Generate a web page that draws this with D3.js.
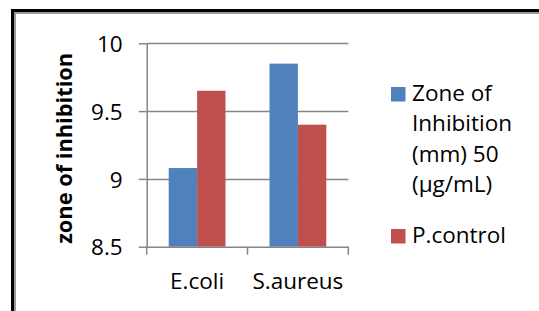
<!DOCTYPE html>
<html>
<head>
<meta charset="utf-8">
<script src="https://cdn.jsdelivr.net/npm/d3@7"></script>
<style>
  html, body { margin: 0; padding: 0; background: #fff; }
  svg { display: block; font-family: 'Open Sans', sans-serif; }
</style>
</head>
<body>
<script>
// data
var categories = ['E.coli', 'S.aureus'];
var seriesNames = ['Zone of Inhibition (mm) 50 (\u00b5g/mL)', 'P.control'];
var zoneValues = [9.08, 9.85];
var controlValues = [9.65, 9.4];
var yTicks = [8.5, 9, 9.5, 10];
var legendLines = [['Zone of', 'Inhibition', '(mm) 50', '(\u00b5g/mL)'], ['P.control']];

// colours
var colorBlue = '#4f81bd',
    colorRed = '#c0504d',
    colorGrid = '#868686';

var width = 539, height = 311;
var plot = { left: 146.7, right: 348.3, top: 43.3, bottom: 246.7 };

var svg = d3.select('body').append('svg')
    .attr('width', width)
    .attr('height', height);

svg.append('rect').attr('width', width).attr('height', height).attr('fill', '#fff');

// frame (black outer, gray inner), only left and top are visible
svg.append('path')
    .attr('d', 'M12.5,' + height + 'V10.5H' + width)
    .attr('fill', 'none').attr('stroke', '#000').attr('stroke-width', 3);
svg.append('path')
    .attr('d', 'M15,' + height + 'V13H' + width)
    .attr('fill', 'none').attr('stroke', '#9a9a9a').attr('stroke-width', 2);

// scales
var y = d3.scaleLinear().domain([8.5, 10]).range([plot.bottom, plot.top]);
var x = d3.scaleBand().domain(categories).range([plot.left, plot.right]);
var xs = d3.scaleBand().domain(seriesNames).range([0, x.bandwidth()]).paddingOuter(0.775);

// gridlines
svg.append('g').selectAll('line').data(yTicks.slice(1)).enter().append('line')
    .attr('x1', plot.left).attr('x2', plot.right)
    .attr('y1', function (d) { return Math.round(y(d)) + 0.5; })
    .attr('y2', function (d) { return Math.round(y(d)) + 0.5; })
    .attr('stroke', colorGrid).attr('stroke-width', 1.5);

// bars
var rows = categories.map(function (c, i) {
    return [
        { cat: c, s: seriesNames[0], v: zoneValues[i], color: colorBlue },
        { cat: c, s: seriesNames[1], v: controlValues[i], color: colorRed }
    ];
});
svg.append('g').selectAll('g').data(rows).enter().append('g')
    .selectAll('rect').data(function (d) { return d; }).enter().append('rect')
    .attr('x', function (d) { return x(d.cat) + xs(d.s); })
    .attr('width', xs.bandwidth())
    .attr('y', function (d) { return y(d.v); })
    .attr('height', function (d) { return y(8.5) - y(d.v); })
    .attr('fill', function (d) { return d.color; });

// y axis
var yAxis = svg.append('g')
    .attr('transform', 'translate(' + plot.left + ',0)')
    .call(d3.axisLeft(y).tickValues(yTicks).tickSize(8).tickSizeOuter(0).tickPadding(16)
        .tickFormat(function (d) { return d; }));
yAxis.select('.domain').attr('stroke', colorGrid).attr('stroke-width', 1.5);
yAxis.selectAll('.tick line').attr('stroke', colorGrid).attr('stroke-width', 1.5);
yAxis.selectAll('.tick text')
    .attr('font-family', "'Open Sans', sans-serif")
    .attr('font-size', 22.5).attr('fill', '#000').attr('dy', '0.36em');

// x axis line with ticks at band edges
var xAxis = svg.append('g')
    .attr('transform', 'translate(0,' + plot.bottom + ')')
    .call(d3.axisBottom(x).tickSize(0).tickPadding(0).tickFormat(''));
xAxis.select('.domain').attr('stroke', colorGrid).attr('stroke-width', 1.5);
var edges = categories.map(function (c) { return x(c); }).concat([x.range()[1]]);
xAxis.selectAll('.edge').data(edges).enter().append('line')
    .attr('class', 'edge')
    .attr('x1', function (d) { return d; }).attr('x2', function (d) { return d; })
    .attr('y1', 0).attr('y2', 8)
    .attr('stroke', colorGrid).attr('stroke-width', 1.5);

// category labels
svg.append('g').selectAll('text').data(categories).enter().append('text')
    .attr('x', function (d) { return x(d) + x.bandwidth() / 2; })
    .attr('y', 289)
    .attr('text-anchor', 'middle')
    .attr('font-size', 22.5)
    .attr('fill', '#000')
    .text(function (d) { return d; });

// y axis title
svg.append('text')
    .attr('transform', 'translate(72,148.3) rotate(-90)')
    .attr('text-anchor', 'middle')
    .attr('font-size', 21.8)
    .attr('font-weight', 'bold')
    .attr('fill', '#000')
    .text('zone of inhibition');

// legend
var legendColors = [colorBlue, colorRed];
var legendTop = [87, 229];
var legend = svg.append('g').selectAll('g').data(legendLines).enter().append('g');
legend.append('rect')
    .attr('x', 391).attr('y', function (d, i) { return legendTop[i]; })
    .attr('width', 14.5).attr('height', 14.5)
    .attr('fill', function (d, i) { return legendColors[i]; });
legend.append('text')
    .attr('font-size', 22.5).attr('fill', '#000')
    .selectAll('tspan').data(function (d, i) {
        return d.map(function (t, j) { return { t: t, j: j, i: i }; });
    }).enter().append('tspan')
    .attr('x', 412)
    .attr('y', function (d) { return legendTop[d.i] + 13.5 + d.j * 30.5; })
    .text(function (d) { return d.t; });
</script>
</body>
</html>
